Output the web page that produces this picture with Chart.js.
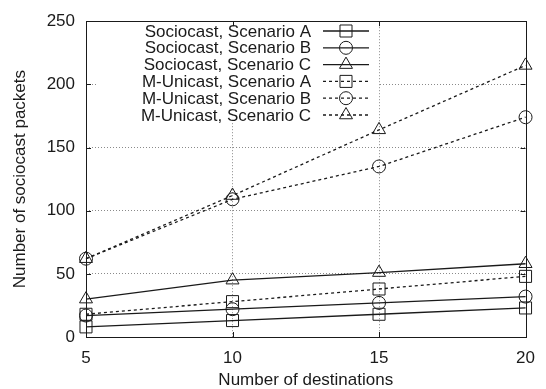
<!DOCTYPE html>
<html>
<head>
<meta charset="utf-8">
<script src="https://cdn.jsdelivr.net/npm/chart.js@4/dist/chart.umd.min.js"></script>
<style>
html,body{margin:0;padding:0;background:#fff;}
#c{display:block;}
</style>
</head>
<body>
<canvas id="c" width="546" height="389"></canvas>
<script>
// ---- data ----
const destinations = [5, 10, 15, 20];
const seriesNames = [
  "Sociocast, Scenario A",
  "Sociocast, Scenario B",
  "Sociocast, Scenario C",
  "M-Unicast, Scenario A",
  "M-Unicast, Scenario B",
  "M-Unicast, Scenario C"
];
const sociocastA = [8, 13, 18, 23];
const sociocastB = [17, 22, 27, 32];
const sociocastC = [30, 45, 51, 58];
const unicastA = [18, 28, 38, 48];
const unicastB = [62, 109, 135, 174];
const unicastC = [62, 112, 164, 215];
const yTicks = [0, 50, 100, 150, 200, 250];
const xTicks = [5, 10, 15, 20];

const seriesValues = [sociocastA, sociocastB, sociocastC, unicastA, unicastB, unicastC];
const styles = ['rect', 'circle', 'triangle', 'rect', 'circle', 'triangle'];
const radii = {rect: 8.5, circle: 6.5, triangle: 7.5};
const FONT = "'Liberation Sans', Arial, Helvetica, sans-serif";
const FS = 17;
const INK = '#1a1a1a';

const datasets = seriesValues.map((vals, i) => ({
  label: seriesNames[i],
  data: destinations.map((x, j) => ({x: x, y: vals[j]})),
  borderColor: INK,
  backgroundColor: 'transparent',
  borderWidth: 1.3,
  borderDash: i >= 3 ? [3, 3] : [],
  pointStyle: styles[i],
  pointRadius: radii[styles[i]],
  pointBorderWidth: 1,
  pointBorderColor: INK,
  pointBackgroundColor: 'transparent',
  fill: false,
  tension: 0,
  clip: false
}));

const framePlugin = {
  id: 'frame',
  afterDraw(chart) {
    const {ctx, chartArea: a, scales} = chart;
    ctx.save();
    // opaque legend box
    const lx0 = 98, ly0 = 20, lx1 = 378, ly1 = 123;
    ctx.fillStyle = '#fff';
    ctx.fillRect(lx0, ly0, lx1 - lx0, ly1 - ly0);
    // frame
    ctx.strokeStyle = INK;
    ctx.lineWidth = 1;
    ctx.setLineDash([]);
    ctx.strokeRect(Math.round(a.left) + 0.5, Math.round(a.top) + 0.5,
                   Math.round(a.right - a.left), Math.round(a.bottom - a.top));
    // inward ticks
    const tl = 5;
    ctx.beginPath();
    xTicks.forEach(v => {
      const px = Math.round(scales.x.getPixelForValue(v)) + 0.5;
      ctx.moveTo(px, a.bottom); ctx.lineTo(px, a.bottom - tl);
      ctx.moveTo(px, a.top); ctx.lineTo(px, a.top + tl);
    });
    yTicks.forEach(v => {
      const py = Math.round(scales.y.getPixelForValue(v)) + 0.5;
      ctx.moveTo(a.left, py); ctx.lineTo(a.left + tl, py);
      ctx.moveTo(a.right, py); ctx.lineTo(a.right - tl, py);
    });
    ctx.stroke();
    // legend entries
    const textRight = 311, lineX0 = 323, lineX1 = 369, markX = 346;
    const rowY0 = 31, rowStep = 16.8;
    ctx.font = FS + "px " + FONT;
    ctx.textAlign = 'right';
    ctx.textBaseline = 'middle';
    chart.data.datasets.forEach((ds, i) => {
      const y = rowY0 + i * rowStep;
      ctx.fillStyle = INK;
      ctx.fillText(ds.label, textRight, y + 1);
      ctx.strokeStyle = INK;
      ctx.lineWidth = ds.borderWidth;
      ctx.setLineDash(ds.borderDash);
      ctx.beginPath();
      ctx.moveTo(lineX0, y); ctx.lineTo(lineX1, y);
      ctx.stroke();
      ctx.setLineDash([]);
      ctx.lineWidth = 1;
      ctx.fillStyle = 'rgba(0,0,0,0)';
      Chart.helpers.drawPoint(ctx, {
        pointStyle: ds.pointStyle, radius: ds.pointRadius, rotation: 0, borderWidth: 1
      }, markX, y);
    });
    ctx.restore();
  }
};

new Chart(document.getElementById('c'), {
  type: 'line',
  data: {datasets: datasets},
  options: {
    responsive: false,
    animation: false,
    devicePixelRatio: 1,
    layout: {padding: {top: 17, right: 13, bottom: 0, left: 0}},
    plugins: {legend: {display: false}, tooltip: {enabled: false}},
    scales: {
      x: {
        type: 'linear',
        min: 5, max: 20,
        afterFit(s) { s.height = 52; },
        afterBuildTicks(s) { s.ticks = xTicks.map(v => ({value: v})); },
        ticks: {color: INK, font: {family: FONT, size: FS}, padding: 11, maxRotation: 0},
        grid: {
          drawTicks: false,
          lineWidth: 1,
          color: c => (c.tick && (c.tick.value === 10 || c.tick.value === 15)) ? '#8a8a8a' : 'transparent'
        },
        border: {display: false, dash: [1, 2]},
        title: {display: true, text: 'Number of destinations', color: INK,
                font: {family: FONT, size: FS, lineHeight: 1}, padding: 0}
      },
      y: {
        type: 'linear',
        min: 0, max: 250,
        afterFit(s) { s.width = 86; },
        afterBuildTicks(s) { s.ticks = yTicks.map(v => ({value: v})); },
        ticks: {color: INK, font: {family: FONT, size: FS}, padding: 11},
        grid: {
          drawTicks: false,
          lineWidth: 1,
          color: c => (c.tick && c.tick.value > 0 && c.tick.value < 250) ? '#8a8a8a' : 'transparent'
        },
        border: {display: false, dash: [1, 2]},
        title: {display: true, text: 'Number of sociocast packets', color: INK,
                font: {family: FONT, size: FS, lineHeight: 1}, padding: {top: 12}}
      }
    }
  },
  plugins: [framePlugin]
});
</script>
</body>
</html>
